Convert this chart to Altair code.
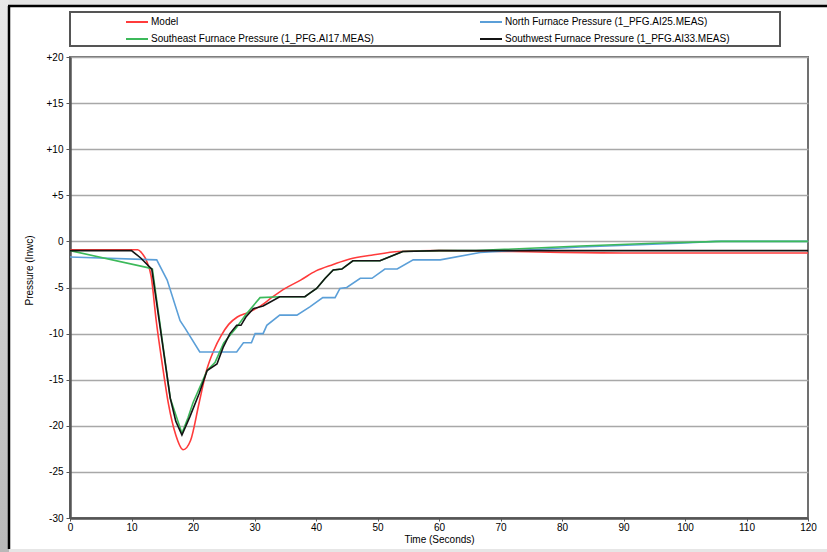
import altair as alt
import pandas as pd

# ---------------- data ----------------
series_names = [
    "Model",
    "Southeast Furnace Pressure (1_PFG.AI17.MEAS)",
    "North Furnace Pressure (1_PFG.AI25.MEAS)",
    "Southwest Furnace Pressure (1_PFG.AI33.MEAS)",
]
series_colors = ["#ff3b3b", "#3cb95a", "#5b9fd8", "#141414"]

model_t = [0, 11, 11.6, 12.5, 13.2, 14, 15, 16, 17.2, 18.4, 19.6, 21, 22.2, 23.4,
           24.6, 25.8, 27.2, 29, 31, 33, 35, 37.5, 40, 42.8, 45.5, 49, 53.5, 60,
           72, 90, 120]
model_v = [-0.9, -0.9, -1.2, -2.2, -3.8, -8.5, -13.3, -17.6, -21.0, -22.6, -21.6,
           -17.5, -14.0, -11.8, -10.2, -9.0, -8.2, -7.7, -7.0, -6.0, -5.1, -4.2,
           -3.2, -2.5, -1.9, -1.5, -1.1, -1.0, -1.1, -1.25, -1.25]

north_t = [0, 14.1, 15.8, 17.9, 18.7, 21.1, 27.1, 28.2, 29.5, 30.1, 31.4, 32, 34.1,
           36.9, 39, 41.1, 43.1, 43.9, 45, 47.2, 49.1, 51.2, 53.2, 55.8, 60.2, 66.7,
           83, 99, 105, 120]
north_v = [-1.7, -2.0, -4.2, -8.6, -9.4, -12.0, -12.0, -11.0, -11.0, -10.0, -10.0,
           -9.1, -8.0, -8.0, -7.1, -6.1, -6.1, -5.1, -5.0, -4.0, -4.0, -3.0, -3.0,
           -2.0, -2.0, -1.2, -0.6, -0.2, 0.0, 0.0]

southeast_t = [0, 13, 13.4, 16.3, 18.2, 19.2, 20, 22.3, 23.6, 25, 27.1, 28.5, 30.9,
               34.1, 38.2, 39, 40.1, 41.5, 42.8, 44.2, 46, 50.4, 54.1, 60, 66, 83,
               95, 106, 120]
southeast_v = [-1.0, -2.9, -3.0, -17.0, -20.8, -19.1, -17.5, -14.0, -13.1, -11.0,
               -9.3, -8.0, -6.1, -6.0, -6.0, -5.6, -5.1, -4.0, -3.1, -3.0, -2.1,
               -2.1, -1.1, -1.0, -1.0, -0.5, -0.2, 0.0, 0.0]

southwest_t = [0, 10, 11.5, 13.3, 16.3, 17.2, 18.2, 19.5, 21, 22.3, 23.9, 24.9, 26,
               27.1, 27.8, 28.6, 29.8, 31.4, 32.5, 34.1, 38.2, 39, 40.1, 41.5, 42.8,
               44.2, 46, 50.4, 54.1, 60, 120]
southwest_v = [-1.0, -1.0, -1.8, -3.0, -17.0, -19.5, -21.0, -19.0, -16.5, -14.0,
               -13.3, -11.5, -10.0, -9.1, -9.1, -8.2, -7.3, -7.0, -6.6, -6.0, -6.0,
               -5.6, -5.1, -4.0, -3.1, -3.0, -2.1, -2.1, -1.1, -1.0, -1.0]

y_ticks = [-30, -25, -20, -15, -10, -5, 0, 5, 10, 15, 20]
x_ticks = [0, 10, 20, 30, 40, 50, 60, 70, 80, 90, 100, 110, 120]

# ---------------- build tables ----------------
def table(name, ts, vs):
    return pd.DataFrame({"series": [name] * len(ts), "t": ts, "v": vs})

df_model = table(series_names[0], model_t, model_v)
df_meas = pd.concat([
    table(series_names[2], north_t, north_v),
    table(series_names[1], southeast_t, southeast_v),
    table(series_names[3], southwest_t, southwest_v),
], ignore_index=True)

FONT = "Liberation Sans"
W, H = 738, 461

x_enc = alt.X("t:Q", scale=alt.Scale(domain=[0, 120], nice=False, zero=False),
              axis=alt.Axis(values=x_ticks, title="Time (Seconds)", grid=False,
                            tickSize=3, tickColor="#555", tickWidth=1,
                            domainColor="#555", domainWidth=2.5,
                            labelFont=FONT, labelFontSize=10, labelColor="#000",
                            labelPadding=1, labelFlush=False,
                            titleFont=FONT, titleFontSize=10, titleFontWeight="normal",
                            titleColor="#000", titlePadding=2))
y_enc = alt.Y("v:Q", scale=alt.Scale(domain=[-30, 20], nice=False, zero=False),
              axis=alt.Axis(values=y_ticks, title="Pressure (Inwc)", grid=True,
                            gridColor="#a8a8a8", gridWidth=1.5,
                            tickSize=4, tickColor="#555", tickWidth=1,
                            domainColor="#555", domainWidth=2.5,
                            labelExpr="datum.value > 0 ? '+' + datum.value : '' + datum.value",
                            labelFont=FONT, labelFontSize=10, labelColor="#000",
                            labelPadding=3,
                            titleFont=FONT, titleFontSize=10, titleFontWeight="normal",
                            titleColor="#000", titlePadding=12, titleY=213))
color_enc = alt.Color("series:N",
                      scale=alt.Scale(domain=series_names, range=series_colors),
                      legend=alt.Legend(orient="none", legendX=55, legendY=-47,
                                        columns=2, title=None, symbolType="stroke",
                                        symbolSize=484, symbolStrokeWidth=2,
                                        labelFont=FONT, labelFontSize=10,
                                        labelColor="#000", labelOffset=2,
                                        columnPadding=102, rowPadding=-1,
                                        labelLimit=400))

model_line = alt.Chart(df_model).mark_line(
    strokeWidth=1.6, clip=True, interpolate="monotone").encode(
    x=x_enc, y=y_enc, color=color_enc, order=alt.Order("t:Q"))

meas_lines = alt.Chart(df_meas).mark_line(strokeWidth=1.6, clip=True).encode(
    x=x_enc, y=y_enc, color=color_enc, order=alt.Order("t:Q"))

one = alt.Data(values=[{"k": 1}])

legend_box = alt.Chart(one).mark_rect(filled=False, stroke="#555", strokeWidth=2).encode(
    x=alt.value(0), x2=alt.value(710), y=alt.value(-45), y2=alt.value(-11))

left_strip = alt.Chart(one).mark_rect(
    fill=alt.Gradient(gradient="linear",
                      stops=[alt.GradientStop(color="#e8e8e8", offset=0),
                             alt.GradientStop(color="#b8b8b8", offset=1)],
                      x1=0, x2=0, y1=0, y2=1)).encode(
    x=alt.value(-70), x2=alt.value(-61), y=alt.value(-57), y2=alt.value(495))

top_strip = alt.Chart(one).mark_rect(color="#e4e4e4").encode(
    x=alt.value(-61), x2=alt.value(757), y=alt.value(-57), y2=alt.value(-51))

bottom_strip = alt.Chart(one).mark_rect(color="#e6e6e6").encode(
    x=alt.value(-61), x2=alt.value(757), y=alt.value(492), y2=alt.value(495))

top_rule = alt.Chart(one).mark_rule(color="#000", strokeWidth=2.5).encode(
    x=alt.value(-62), x2=alt.value(757), y=alt.value(-51))

left_rule = alt.Chart(one).mark_rule(color="#000", strokeWidth=2.5).encode(
    x=alt.value(-61), y=alt.value(-51), y2=alt.value(492))

chart = alt.layer(
    left_strip, top_strip, bottom_strip, top_rule, left_rule, legend_box,
    model_line, meas_lines
).properties(
    width=W, height=H,
    autosize=alt.AutoSizeParams(type="none"),
    padding={"left": 70, "top": 57, "right": 19, "bottom": 34},
    background="#ffffff",
).configure_view(
    stroke="#707070", strokeWidth=2
)

chart.save("out.html", embed_options={"renderer": "svg", "actions": False})
